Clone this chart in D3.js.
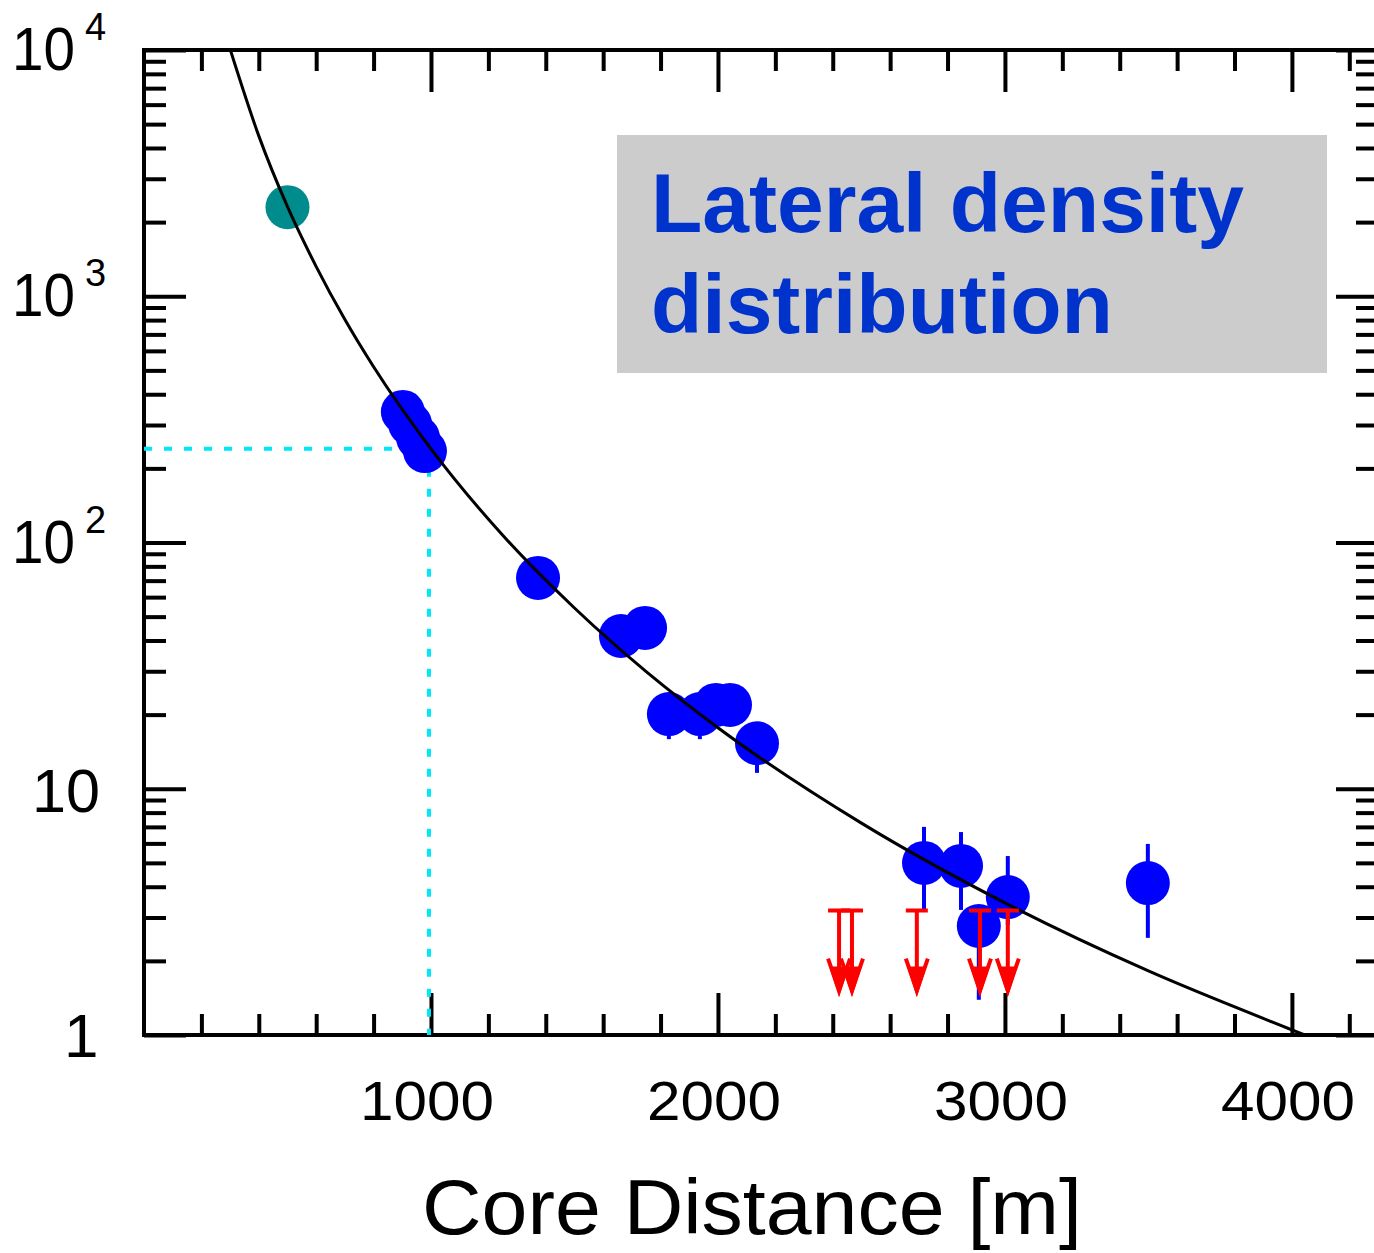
<!DOCTYPE html>
<html><head><meta charset="utf-8">
<script src="https://cdn.jsdelivr.net/npm/d3@7"></script>
<style>body{margin:0;background:#fff}svg{display:block}</style>
</head><body><svg id="c" width="1374" height="1253"></svg>
<script>
// ---- data ----
const tealDist = [500];
const tealDens = [2300];
const blueDist = [902, 927, 955, 979, 1373, 1662, 1746, 1829, 1937, 1993, 2042, 2136, 2718, 2847, 2909, 3010, 3498];
const blueDens = [339, 303, 266, 235, 71.8, 41.7, 45.0, 20.1, 20.1, 21.9, 21.9, 15.3, 5.0, 4.86, 2.77, 3.63, 4.14];
const blueErrLo = [339, 303, 266, 235, 71.8, 41.7, 45.0, 15.9, 15.9, 21.9, 21.9, 11.6, 3.22, 3.22, 1.39, 2.8, 2.48];
const blueErrHi = [339, 303, 266, 235, 71.8, 41.7, 45.0, 20.1, 20.1, 21.9, 21.9, 15.3, 7.0, 6.67, 2.77, 5.33, 5.97];
const limitDist = [2422, 2467, 2693, 2913, 3010];
const limitDens = [3.2, 3.2, 3.2, 3.2, 3.2];
const fitDist = [300, 400, 500, 600, 700, 800, 1000, 1250, 1500, 1750, 2000, 2500, 3000, 3500, 4000, 4100];
const fitDens = [10090, 4480, 2310, 1320, 804, 517, 240, 107, 54.2, 29.9, 17.7, 7.25, 3.44, 1.82, 1.05, 0.944];
const refDist = 1000, refDens = 240;
const xTickLabels = [1000, 2000, 3000, 4000];
const yTickExps = [4, 3, 2];
const yPlainLabels = ["10", "1"];
const titleLines = ["Lateral density", "distribution"];
const xTitle = "Core Distance [m]";

// ---- layout ----
const svg = d3.select("#c");
const L = 144, R = 1378, T = 50, B = 1035;
const x = d3.scaleLinear().domain([0, 4300]).range([L, R]);
const y = d3.scaleLog().domain([1, 1e4]).range([B, T]);

svg.append("defs").append("clipPath").attr("id", "plot")
  .append("rect").attr("x", L).attr("y", T).attr("width", R - L).attr("height", B - T);

// title box
svg.append("rect").attr("x", 617).attr("y", 135).attr("width", 710).attr("height", 238).attr("fill", "#cccccc");
svg.selectAll("text.title").data(titleLines).join("text").attr("class", "title")
  .attr("x", 651).attr("y", (d, i) => 232 + i * 101)
  .attr("font-family", "Liberation Sans, Arial, sans-serif").attr("font-weight", "bold")
  .attr("font-size", 84).attr("fill", "#0033cc").text(d => d);

// ticks
const minorX = d3.range(200, 4300, 200).filter(v => v % 1000 !== 0);
const majorX = [1000, 2000, 3000, 4000];
const minorY = [], majorY = [1, 10, 100, 1000, 10000];
[1, 10, 100, 1000].forEach(d => { for (let k = 2; k <= 9; k++) minorY.push(k * d); });

function addAxis(axis, tx, ty) {
  const g = svg.append("g").attr("transform", `translate(${tx},${ty})`).call(axis);
  g.select(".domain").remove();
  g.selectAll("text").remove();
  g.selectAll("line").attr("stroke", "#000").attr("stroke-width", 4);
  return g;
}
addAxis(d3.axisBottom(x).tickValues(minorX).tickSize(-21).tickSizeOuter(0), 0, B);
addAxis(d3.axisBottom(x).tickValues(majorX).tickSize(-42).tickSizeOuter(0), 0, B);
addAxis(d3.axisTop(x).tickValues(minorX).tickSize(-21).tickSizeOuter(0), 0, T);
addAxis(d3.axisTop(x).tickValues(majorX).tickSize(-42).tickSizeOuter(0), 0, T);
addAxis(d3.axisLeft(y).tickValues(minorY).tickSize(-22).tickSizeOuter(0), L, 0);
addAxis(d3.axisLeft(y).tickValues(majorY).tickSize(-42).tickSizeOuter(0), L, 0);
addAxis(d3.axisRight(y).tickValues(minorY).tickSize(-22).tickSizeOuter(0), R, 0);
addAxis(d3.axisRight(y).tickValues(majorY).tickSize(-42).tickSizeOuter(0), R, 0);

// frame
svg.append("rect").attr("x", L).attr("y", T).attr("width", R - L).attr("height", B - T)
  .attr("fill", "none").attr("stroke", "#000").attr("stroke-width", 4);

// tick labels
const font = "Liberation Sans, Arial, sans-serif";
svg.selectAll("text.xl").data(xTickLabels).join("text").attr("class", "xl")
  .attr("x", d => x(d) - 4).attr("y", 1120).attr("text-anchor", "middle")
  .attr("font-family", font).attr("font-size", 56)
  .attr("textLength", 134).attr("lengthAdjust", "spacingAndGlyphs").text(d => d);

yTickExps.forEach(e => {
  const ty = y(Math.pow(10, e));
  svg.append("text").attr("x", 12).attr("y", ty + 20).attr("font-family", font).attr("font-size", 62)
    .attr("textLength", 63).attr("lengthAdjust", "spacingAndGlyphs").text("10");
  svg.append("text").attr("x", 85).attr("y", ty - 10).attr("font-family", font).attr("font-size", 38).text(e);
});
svg.append("text").attr("x", 32).attr("y", y(10) + 23).attr("font-family", font).attr("font-size", 62)
  .attr("textLength", 68).attr("lengthAdjust", "spacingAndGlyphs").text(yPlainLabels[0]);
svg.append("text").attr("x", 64).attr("y", y(1) + 22).attr("font-family", font).attr("font-size", 62).text(yPlainLabels[1]);

// axis title
svg.append("text").attr("x", 422).attr("y", 1234).attr("font-family", font).attr("font-size", 78)
  .attr("textLength", 660).attr("lengthAdjust", "spacingAndGlyphs").text(xTitle);

const plot = svg.append("g").attr("clip-path", "url(#plot)");

// reference dashed lines
plot.append("path")
  .attr("d", `M${L},${y(refDens)}H${x(refDist) - 2}M${x(refDist) - 2},${y(refDens)}V${B}`)
  .attr("fill", "none").attr("stroke", "#00e8f8").attr("stroke-width", 4).attr("stroke-dasharray", "8 12");

// teal point
plot.selectAll("circle.teal").data(tealDist).join("circle").attr("class", "teal")
  .attr("cx", d => x(d)).attr("cy", (d, i) => y(tealDens[i])).attr("r", 22).attr("fill", "#008c8c");

// blue points + error bars
const blue = blueDist.map((d, i) => ({ d, v: blueDens[i], lo: blueErrLo[i], hi: blueErrHi[i] }));
plot.selectAll("line.err").data(blue).join("line").attr("class", "err")
  .attr("x1", p => x(p.d)).attr("x2", p => x(p.d))
  .attr("y1", p => y(p.hi)).attr("y2", p => y(p.lo))
  .attr("stroke", "#0000ff").attr("stroke-width", 4);
plot.selectAll("circle.blue").data(blue).join("circle").attr("class", "blue")
  .attr("cx", p => x(p.d)).attr("cy", p => y(p.v)).attr("r", 22).attr("fill", "#0000ff");

// fit curve
plot.append("path").datum(fitDist.map((d, i) => [d, fitDens[i]]))
  .attr("d", d3.line().x(p => x(p[0])).y(p => y(p[1])).curve(d3.curveMonotoneX))
  .attr("fill", "none").attr("stroke", "#000").attr("stroke-width", 3);

// upper limits (red arrows)
const lim = svg.append("g").attr("fill", "none").attr("stroke", "#ff0000").attr("stroke-width", 4);
limitDist.forEach((d, i) => {
  const cx = x(d), cy = y(limitDens[i]), tip = cy + 80;
  lim.append("path").attr("d", `M${cx - 11},${cy}H${cx + 11}M${cx},${cy}V${tip}M${cx - 11},${tip - 32}L${cx},${tip}L${cx + 11},${tip - 32}`);
  lim.append("path").attr("d", `M${cx - 7},${tip - 22}L${cx},${tip}L${cx + 7},${tip - 22}Z`).attr("fill", "#ff0000");
});
</script></body></html>
